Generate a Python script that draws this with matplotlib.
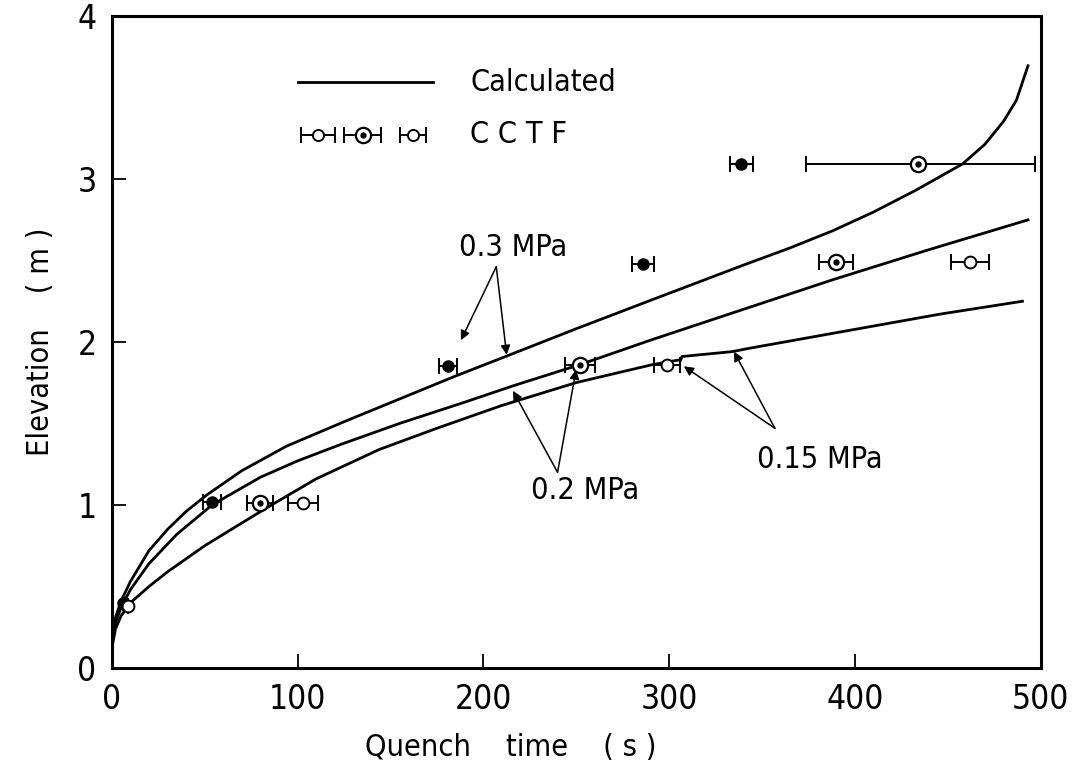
import numpy as np
import matplotlib.pyplot as plt

plt.rcParams['font.family'] = ['DejaVu Sans']
plt.rcParams['font.stretch'] = 'condensed'

# calculated curves (quench time s, elevation m)
t_03 = [0, 0.5, 2, 5, 10, 20, 30, 40, 51, 70, 94, 125, 155, 185, 212, 250, 296,
        340, 365, 388, 410, 433, 458, 470, 480, 487, 493.5]
z_03 = [0, 0.20, 0.31, 0.41, 0.53, 0.72, 0.85, 0.96, 1.06, 1.21, 1.36, 1.51, 1.65,
        1.79, 1.91, 2.08, 2.28, 2.47, 2.575, 2.68, 2.795, 2.93, 3.09, 3.21, 3.35,
        3.48, 3.70]

t_02 = [0, 0.5, 2, 5, 10, 20, 35, 54, 80, 100, 123, 155, 190, 216, 252, 290, 331,
        388, 440, 494]
z_02 = [0, 0.18, 0.28, 0.37, 0.48, 0.64, 0.82, 1.00, 1.17, 1.27, 1.37, 1.50, 1.63,
        1.73, 1.86, 2.01, 2.165, 2.38, 2.565, 2.75]

t_015 = [0, 0.5, 2, 5, 10, 20, 30, 50, 83, 110, 144, 175, 210, 250, 291, 306]
z_015 = [0, 0.15, 0.24, 0.32, 0.40, 0.50, 0.59, 0.75, 0.98, 1.16, 1.34, 1.47, 1.61,
         1.75, 1.86, 1.89]
# 0.15 MPa after the kink
t_015b = [306, 307, 334, 343, 446, 491]
z_015b = [1.88, 1.91, 1.94, 1.96, 2.17, 2.25]

# CCTF data
t_fill = [6, 54, 181, 286, 339]
z_fill = [0.40, 1.02, 1.85, 2.48, 3.09]
e_fill = [0, 5, 5, 6, 6]

t_dot = [80, 252, 390, 434]
z_dot = [1.01, 1.86, 2.49, 3.09]
e_dot_lo = [7, 8, 9, 60]
e_dot_hi = [7, 8, 9, 63]

t_open = [9, 103, 299, 462]
z_open = [0.38, 1.01, 1.86, 2.49]
e_open = [0, 8, 7, 10]

fig = plt.figure(figsize=(10.85, 7.76), dpi=100)
ax = fig.add_axes([0.103, 0.139, 0.856, 0.841])

lw = 2.0
for t, z in [(t_03, z_03), (t_02, z_02), (t_015, z_015), (t_015b, z_015b)]:
    ax.plot(t, z, color='black', lw=lw, solid_joinstyle='round', solid_capstyle='butt')

ebkw = dict(fmt='none', ecolor='black', elinewidth=1.4, capsize=6, capthick=1.4)
ax.errorbar(t_fill, z_fill, xerr=e_fill, **ebkw)
ax.errorbar(t_dot, z_dot, xerr=[e_dot_lo, e_dot_hi], **ebkw)
ax.errorbar(t_open, z_open, xerr=e_open, **ebkw)

ax.plot(t_fill, z_fill, 'o', ms=8, mfc='black', mec='black', zorder=5)
ax.plot(t_dot, z_dot, 'o', ms=11, mfc='white', mec='black', mew=1.6, zorder=5)
ax.plot(t_dot, z_dot, 'o', ms=3.5, mfc='black', mec='black', zorder=6)
ax.plot(t_open, z_open, 'o', ms=8.5, mfc='white', mec='black', mew=1.4, zorder=5)

# legend drawn by hand
ax.plot([100, 173], [3.59, 3.59], color='black', lw=lw)
ax.text(193, 3.59, 'Calculated', fontsize=22, va='center', ha='left')
leg_t = [111, 135, 162]
leg_e = [9, 10, 7]
ax.errorbar(leg_t, [3.27] * 3, xerr=leg_e, **ebkw)
ax.plot(leg_t[0], 3.27, 'o', ms=8, mfc='white', mec='black', mew=1.4, zorder=5)
ax.plot(leg_t[1], 3.27, 'o', ms=11, mfc='white', mec='black', mew=1.6, zorder=5)
ax.plot(leg_t[1], 3.27, 'o', ms=3.5, mfc='black', mec='black', zorder=6)
ax.plot(leg_t[2], 3.27, 'o', ms=8, mfc='white', mec='black', mew=1.4, zorder=5)
ax.text(193, 3.27, 'C C T F', fontsize=22, va='center', ha='left')

# pressure labels with arrows
akw = dict(arrowstyle='-|>', color='black', lw=1.1, mutation_scale=14, shrinkA=0, shrinkB=0)
ax.text(216, 2.58, '0.3 MPa', fontsize=22, ha='center', va='center')
for head in [(188, 2.01), (212.6, 1.92)]:
    ax.annotate('', xy=head, xytext=(207, 2.46), arrowprops=akw)

ax.text(255, 1.09, '0.2 MPa', fontsize=22, ha='center', va='center')
for head in [(216, 1.70), (250, 1.83)]:
    ax.annotate('', xy=head, xytext=(240, 1.20), arrowprops=akw)

ax.text(381, 1.28, '0.15 MPa', fontsize=22, ha='center', va='center')
for head in [(308, 1.85), (335, 1.94)]:
    ax.annotate('', xy=head, xytext=(357, 1.47), arrowprops=akw)

ax.set_xlim(0, 500)
ax.set_ylim(0, 4)
ax.set_xticks([0, 100, 200, 300, 400, 500])
ax.set_yticks([0, 1, 2, 3, 4])
ax.tick_params(direction='in', length=10, width=1.3, labelsize=24, pad=11)
for s in ax.spines.values():
    s.set_linewidth(2.2)

ax.set_xlabel('Quench    time    ( s )', fontsize=22, labelpad=14)
ax.xaxis.set_label_coords(0.43, -0.1)
ax.set_ylabel('Elevation    ( m )', fontsize=22, labelpad=16)

fig.savefig('out.png', dpi=100)
